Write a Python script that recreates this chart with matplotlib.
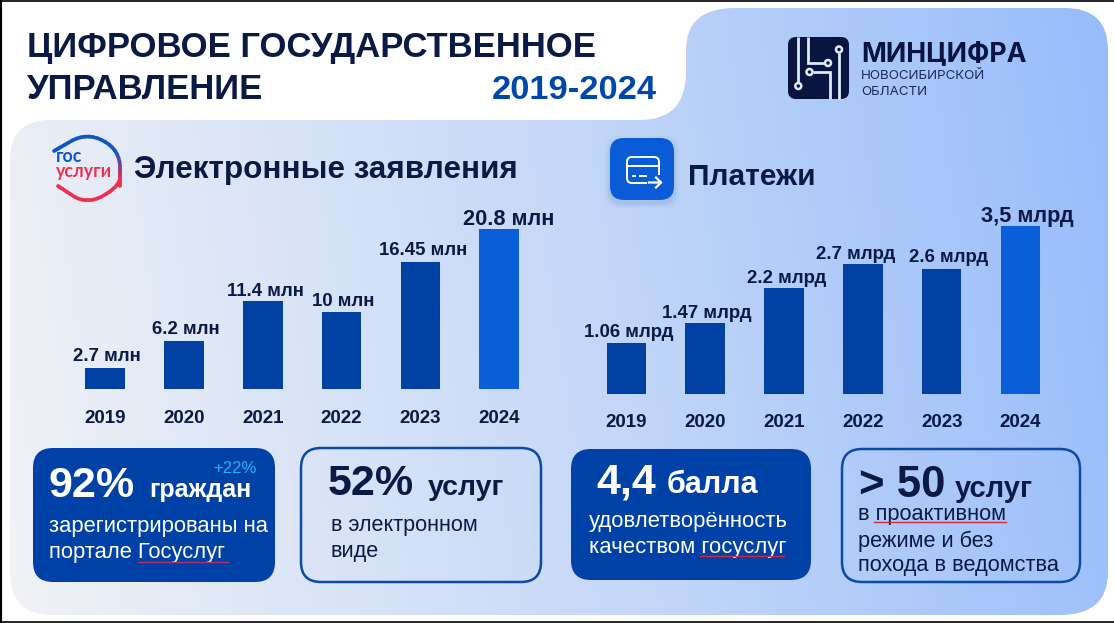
import numpy as np
import matplotlib
matplotlib.use("Agg")
import matplotlib.pyplot as plt
from matplotlib.patches import FancyBboxPatch, PathPatch, Circle
from matplotlib.path import Path
from matplotlib.collections import LineCollection
from matplotlib.colors import LinearSegmentedColormap, to_rgb

plt.rcParams['font.family'] = ['Liberation Sans', 'DejaVu Sans']

# ---- data ----
years = ['2019', '2020', '2021', '2022', '2023', '2024']
applications = [2.7, 6.2, 11.4, 10, 16.45, 20.8]
application_labels = ['2.7 млн', '6.2 млн', '11.4 млн', '10 млн', '16.45 млн', '20.8 млн']
payments = [1.06, 1.47, 2.2, 2.7, 2.6, 3.5]
payment_labels = ['1.06 млрд', '1.47 млрд', '2.2 млрд', '2.7 млрд', '2.6 млрд', '3,5 млрд']

# label nudges in pixels
app_dx = [1.5, 2, 2.2, 1.5, 3, 9.7]
app_dy = [6.7, 6.7, 5.6, 6.3, 7, 4]
pay_dx = [2.4, 2, 2.7, -7.5, 7, 6.5]
pay_dy = [6, 5.4, 5.4, 5.3, 7.3, 4.3]

W, H = 1114, 623
DARK = '#0a1a45'
BAR = '#0041a3'
BAR_HI = '#0a5fd8'
CARD = '#0041a8'
EDGE = '#0b4aa6'
BLUE = '#0047ab'
GREY_RED = '#d8263f'

fig = plt.figure(figsize=(W / 100, H / 100), dpi=100, facecolor='white')
bg = fig.add_axes([0, 0, 1, 1])
bg.set_xlim(0, W)
bg.set_ylim(H, 0)
bg.axis('off')

# ---- panel with gradient ----
M, L, C = Path.MOVETO, Path.LINETO, Path.CURVE3
verts = [(10, 160), (10, 120), (50, 120), (640, 120), (686, 120), (686, 72), (686, 50), (686, 8), (735, 8),
         (1065, 8), (1108, 8), (1108, 50), (1108, 572), (1108, 615), (1060, 615), (52, 615), (10, 615), (10, 573), (10, 160)]
codes = [M, C, C, L, C, C, L, C, C, L, C, C, L, C, C, L, C, C, L]
panel = PathPatch(Path(verts, codes), fc='none', ec='none', transform=bg.transData)
bg.add_patch(panel)
yy, xx = np.mgrid[0:H, 0:W]
t = (xx + (H - yy) * 0.15) / (W + H * 0.15)
cmap = LinearSegmentedColormap.from_list('panel', ['#f1f2f5', '#c7d9f8', '#97bcfb'])
img = bg.imshow(t, cmap=cmap, vmin=0, vmax=1, extent=(0, W, H, 0), aspect='auto', zorder=0)
img.set_clip_path(panel)
bg.set_xlim(0, W)
bg.set_ylim(H, 0)

# black frame
bg.plot([1, 1], [0, 621.5], color='black', lw=1.5, zorder=1)
bg.plot([0, W], [0.5, 0.5], color='black', lw=1.2, zorder=1)
bg.plot([0, W], [621.5, 621.5], color='black', lw=1.2, zorder=1)


def T(x, y, s, size, color=DARK, bold=True, ha='left', family=None, **kw):
    return bg.text(x, y, s, fontsize=size, color=color, ha=ha, va='baseline',
                   fontweight='bold' if bold else 'normal',
                   family=family if family else ['Liberation Sans', 'DejaVu Sans'], zorder=5, **kw)


def card(x0, y0, x1, y1, filled):
    bg.add_patch(FancyBboxPatch((x0 + 20, y0 + 20), x1 - x0 - 40, y1 - y0 - 40,
                                boxstyle='round,pad=20,rounding_size=20', mutation_aspect=1,
                                fc=CARD if filled else 'none', ec=CARD if filled else EDGE,
                                lw=0 if filled else 1.8, zorder=3))


# ---- titles ----
T(27, 57, 'ЦИФРОВОЕ ГОСУДАРСТВЕННОЕ', 24.9)
T(27, 99, 'УПРАВЛЕНИЕ', 24.9)
T(492, 99, '2019-2024', 24.8, color=BLUE)
T(134, 178, 'Электронные заявления', 22.6)
T(688, 185, 'Платежи', 21.5)


# ---- bar panels ----
def bars(cx0, step, base, scale, values, labels, dxs, dys, pad):
    left = cx0 - step / 2
    right = cx0 + 5.5 * step
    top = 200
    ax = fig.add_axes([left / W, 1 - base / H, (right - left) / W, (base - top) / H])
    ax.patch.set_alpha(0)
    ax.set_xlim(-0.5, 5.5)
    ax.set_ylim(0, (base - top) / scale)
    for s in ax.spines.values():
        s.set_visible(False)
    pos = np.arange(len(values))
    ax.bar(pos, values, width=39.5 / step, color=[BAR] * 5 + [BAR_HI])
    ax.set_yticks([])
    ax.set_xticks(pos)
    ax.set_xticklabels(years, fontsize=13.5, fontweight='bold', color=DARK)
    ax.tick_params(axis='x', length=0, pad=pad)
    for i, v in enumerate(values):
        ax.annotate(labels[i], (i, v), xytext=(dxs[i] * 0.72, dys[i] * 0.72), textcoords='offset points',
                    ha='center', va='baseline', fontsize=15.7 if i == 5 else 13.4,
                    fontweight='bold', color=DARK, annotation_clip=False)
    return ax


bars(105.2, 78.8, 388.7, 7.68, applications, application_labels, app_dx, app_dy, 15)
bars(626.3, 78.85, 393.7, 47.9, payments, payment_labels, pay_dx, pay_dy, 14.5)

# ---- cards ----
card(33, 448, 275, 582, True)
card(301, 448, 541, 582, False)
card(571, 449, 811, 580, True)
card(842, 449, 1080, 582, False)

W_ = 'white'
T(49, 497, '92%', 31, W_)
T(149, 497, 'граждан', 18, W_)
T(213, 473, '+22%', 12, '#22b5f5', bold=False)
T(49, 532, 'зарегистрированы на', 15.8, W_, bold=False)
T(49, 558, 'портале Госуслуг', 15.8, W_, bold=False)
bg.plot([138, 228], [562, 562], color='#b0306a', lw=1, zorder=6)

T(328, 495, '52%', 31)
T(428, 495, 'услуг', 20.5)
T(331, 531, 'в электронном', 15.6, bold=False)
T(331, 557, 'виде', 15.6, bold=False)

T(596, 493, '4,4', 31, W_)
T(667, 493, 'балла', 22, W_)
T(589, 527, 'удовлетворённость', 15.9, W_, bold=False)
T(589, 553, 'качеством госуслуг', 15.9, W_, bold=False)
bg.plot([700, 784], [555.5, 555.5], color='#d8263f', lw=1, zorder=6)

T(859, 497, '> 50', 31.5)
T(955, 497, 'услуг', 21)
T(858, 520, 'в проактивном', 15.7, bold=False)
bg.plot([874, 1006], [522, 522], color=GREY_RED, lw=1, zorder=6)
T(858, 546.5, 'режиме и без', 15.7, bold=False)
T(858, 571.5, 'похода в ведомства', 15.7, bold=False)

# ---- Минцифра logo ----
bg.add_patch(FancyBboxPatch((796, 45), 45, 46, boxstyle='round,pad=8,rounding_size=8',
                            fc='#0a1440', ec='none', zorder=3))
LOGO_LINE = '#dfe9fb'
for xs, ys in [([798.3, 798.3], [37, 83]),
               ([808, 808, 824.5], [37, 63, 63]),
               ([839, 839], [53, 98.5]),
               ([813, 830, 830], [72, 72, 98.5])]:
    bg.plot(xs, ys, color=LOGO_LINE, lw=2, zorder=4, solid_capstyle='butt', solid_joinstyle='miter')
for cx, cy in [(798.3, 86), (828, 63), (839, 49.5), (809.5, 72)]:
    bg.add_patch(Circle((cx, cy), 3, fc='#0a1440', ec=LOGO_LINE, lw=1.8, zorder=4))
T(861, 61, 'МИНЦИФРА', 19.2, family='Inter', color='#0a1440')
T(861, 79, 'НОВОСИБИРСКОЙ', 9.6, family='Inter', color='#1a2a5a', bold=False)
T(861, 95, 'ОБЛАСТИ', 9.6, family='Inter', color='#1a2a5a', bold=False)


# ---- Госуслуги logo ----
def chaikin(pts, n=3):
    pts = np.asarray(pts, float)
    for _ in range(n):
        a, b = pts[:-1], pts[1:]
        q = np.empty((2 * len(a), 2))
        q[0::2] = 0.75 * a + 0.25 * b
        q[1::2] = 0.25 * a + 0.75 * b
        pts = np.vstack([pts[0], q, pts[-1]])
    return pts


top_pts = chaikin([(54, 151), (87, 132), (120, 150), (120, 186)])
bot_pts = chaikin([(58, 186), (87, 205), (120, 186), (120, 168)])
c1, c2 = np.array(to_rgb('#0d55c8')), np.array(to_rgb('#ee3050'))
for pts in (top_pts, bot_pts):
    segs = np.stack([pts[:-1], pts[1:]], axis=1)
    mix = np.clip((segs[:, 0, 1] - 150) / 30, 0, 1)[:, None]
    bg.add_collection(LineCollection(segs, colors=c1 * (1 - mix) + c2 * mix, linewidths=2.6, zorder=4, capstyle='round'))
T(56, 161.5, 'гос', 12.8, '#0d55c8', family='Lato')
T(56, 177, 'услуги', 12.8, '#ee3050', family='Lato')

# ---- Платежи icon ----
for off, a in [(5, 0.03), (3, 0.04), (1.5, 0.05)]:
    bg.add_patch(FancyBboxPatch((624 - off, 152 + 3 - off), 36 + 2 * off, 34 + 2 * off,
                                boxstyle='round,pad=14,rounding_size=14', fc='#003a9a', ec='none', alpha=a, zorder=2))
bg.add_patch(FancyBboxPatch((624, 152), 36, 34, boxstyle='round,pad=14,rounding_size=14',
                            fc='#0a5cd6', ec='none', zorder=3))
ic = 'white'
icon = [(647, 183), (632, 183), (627, 183), (627, 178), (627, 162), (627, 157), (632, 157), (654, 157),
        (659, 157), (659, 162), (659, 175)]
icon_codes = [M, L, C, C, L, C, C, L, C, C, L]
bg.add_patch(PathPatch(Path(icon, icon_codes), fc='none', ec=ic, lw=1.4, zorder=4))
bg.plot([627, 659], [166, 166], color=ic, lw=1.4, zorder=4)
bg.plot([633, 635], [175.5, 175.5], color=ic, lw=1.4, zorder=4)
bg.plot([640, 646], [175.5, 175.5], color=ic, lw=1.4, zorder=4)
bg.plot([649, 661, 656], [182.5, 182.5, 177.5], color=ic, lw=1.6, zorder=4)
bg.plot([661, 656], [182.5, 187.5], color=ic, lw=1.6, zorder=4)

fig.savefig('out.png', dpi=100)
